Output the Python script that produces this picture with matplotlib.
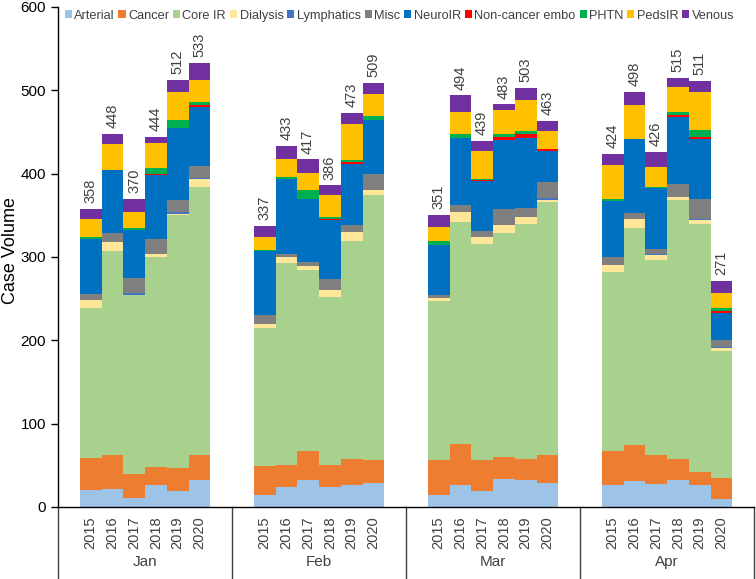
import matplotlib
matplotlib.use("Agg")
import matplotlib.pyplot as plt
from matplotlib.patches import Patch
from matplotlib.lines import Line2D
import numpy as np

plt.rcParams['font.family'] = ['Liberation Sans', 'DejaVu Sans']

months = ["Jan", "Feb", "Mar", "Apr"]
years = ["2015", "2016", "2017", "2018", "2019", "2020"]

series_names = ["Arterial", "Cancer", "Core IR", "Dialysis", "Lymphatics", "Misc",
                "NeuroIR", "Non-cancer embo", "PHTN", "PedsIR", "Venous"]
colors = ["#9DC3E6", "#ED7D31", "#A9D18E", "#FFE699", "#4472C4", "#7F7F7F",
          "#0070C0", "#FF0000", "#00B050", "#FFC000", "#7030A0"]

# values ordered Jan 2015..2020, Feb 2015..2020, Mar ..., Apr ...
arterial = [20, 22, 11, 27, 19, 32,  14, 24, 32, 24, 26, 29,  15, 26, 19, 34, 33, 29,  26, 31, 28, 32, 26, 10]
cancer   = [39, 40, 29, 21, 28, 30,  35, 27, 35, 27, 32, 27,  41, 50, 37, 26, 25, 34,  41, 43, 34, 26, 16, 25]
core_ir  = [180, 245, 214, 252, 303, 322,  166, 242, 218, 201, 261, 319,  191, 266, 260, 269, 282, 303,  215, 261, 235, 310, 298, 152]
dialysis = [10, 11, 1, 4, 2, 10,  5, 7, 4, 8, 11, 5,  4, 12, 8, 9, 8, 3,  9, 11, 6, 4, 5, 4]
lymphatics = [0, 0, 2, 0, 2, 1,  0, 0, 0, 0, 0, 0,  0, 0, 0, 0, 0, 2,  0, 0, 1, 0, 1, 1]
misc     = [7, 11, 18, 18, 14, 14,  10, 4, 5, 14, 8, 20,  3, 9, 7, 20, 11, 19,  9, 7, 6, 16, 24, 9]
neuroir  = [66, 75, 58, 77, 87, 71,  77, 90, 76, 70, 74, 64,  60, 80, 60, 83, 84, 37,  67, 89, 73, 80, 72, 32]
noncancer = [0, 0, 0, 1, 0, 2,  0, 0, 0, 2, 2, 0,  0, 0, 1, 3, 5, 3,  0, 0, 0, 2, 2, 2]
phtn     = [2, 1, 2, 7, 9, 4,  2, 2, 10, 2, 2, 5,  5, 5, 2, 4, 3, 0,  3, 0, 1, 4, 9, 4]
pedsir   = [22, 31, 19, 30, 34, 27,  15, 22, 21, 26, 44, 27,  17, 26, 33, 28, 37, 21,  40, 40, 24, 30, 45, 18]
venous   = [12, 12, 16, 7, 14, 20,  13, 15, 16, 12, 13, 13,  15, 20, 12, 7, 15, 12,  14, 16, 18, 11, 13, 14]

series = [arterial, cancer, core_ir, dialysis, lymphatics, misc, neuroir,
          noncancer, phtn, pedsir, venous]

W, H = 756, 579
fig = plt.figure(figsize=(W / 100, H / 100), dpi=100)
ax = fig.add_axes([58 / W, (H - 507) / H, (754 - 58) / W, 500 / H])

n_years = len(years)
slots = n_years + 2
xpos = []
for g in range(len(months)):
    for i in range(n_years):
        xpos.append(g * slots + 1 + i + 0.5)
xpos = np.array(xpos)

bottom = np.zeros(len(xpos))
for name, vals, c in zip(series_names, series, colors):
    v = np.array(vals, dtype=float)
    ax.bar(xpos, v, width=1.0, bottom=bottom, color=c, edgecolor='none', linewidth=0)
    bottom += v

text_color = '#404040'
for x, t in zip(xpos, bottom):
    ax.text(x, t + 7, f"{int(round(t))}", rotation=90, ha='center', va='bottom',
            fontsize=10.5, color=text_color)

ax.set_xlim(0, slots * len(months))
ax.set_ylim(0, 600)
ax.set_yticks(range(0, 601, 100))
ax.tick_params(axis='y', labelsize=11, length=5, width=1, colors='black', labelcolor='black')

fig.text(11 / W, 1 - 250 / H, "Case Volume", rotation=90, ha='center', va='center',
         fontsize=13, color='black')

ax.set_xticks(xpos)
ax.set_xticklabels(years * len(months), rotation=90, fontsize=10.5, color=text_color)
ax.tick_params(axis='x', length=0, pad=7)

for s in ['top', 'right']:
    ax.spines[s].set_visible(False)
for s in ['left', 'bottom']:
    ax.spines[s].set_linewidth(1.0)
    ax.spines[s].set_color('black')

trans = ax.get_xaxis_transform()
for g in range(len(months) + 1):
    ax.add_line(Line2D([g * slots, g * slots], [0, -0.15], transform=trans,
                       color='#404040', linewidth=1.0, clip_on=False))
for g, m in enumerate(months):
    ax.text(g * slots + slots / 2, -0.11, m, transform=trans, ha='center', va='center',
            fontsize=11, color=text_color)

handles = [Patch(facecolor=c, edgecolor='none') for c in colors]
fig.legend(handles, series_names, loc='upper left', bbox_to_anchor=(62 / W, 1 - 7 / H),
           ncol=len(series_names), frameon=False, fontsize=9.2,
           handlelength=0.55, handleheight=0.55, handletextpad=0.2,
           columnspacing=0.3, borderaxespad=0, borderpad=0.2,
           labelcolor=text_color)

fig.savefig("out.png", dpi=100)
